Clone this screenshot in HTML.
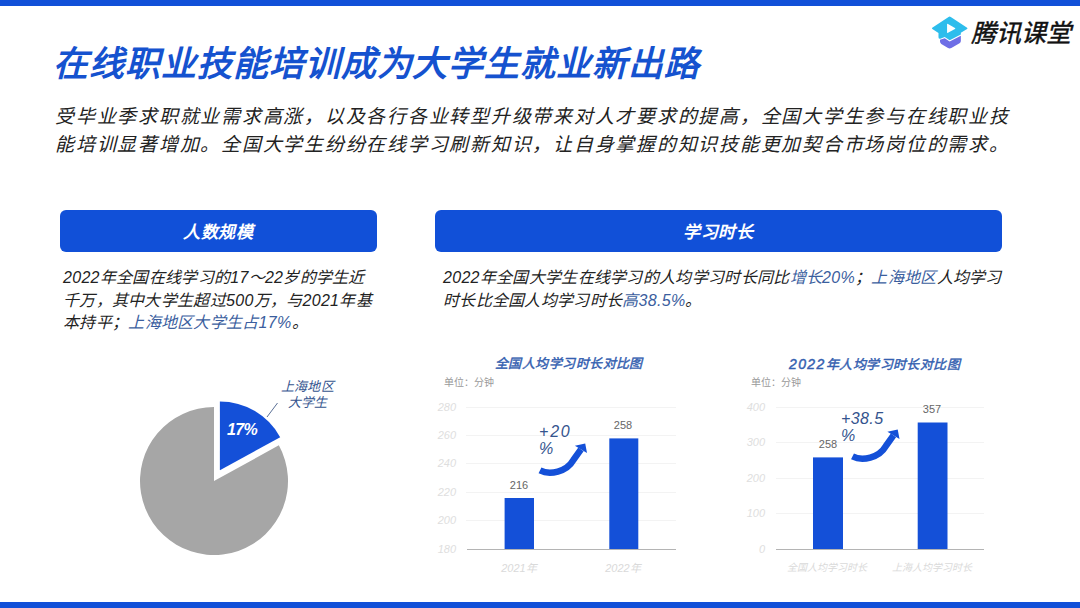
<!DOCTYPE html>
<html lang="zh-CN"><head><meta charset="utf-8">
<style>
*{margin:0;padding:0;box-sizing:border-box}
html,body{width:1080px;height:608px;overflow:hidden;background:#fff}
body{position:relative;font-family:"Liberation Sans",sans-serif;color:#222}
.abs{position:absolute;white-space:nowrap}
.bar-top{left:0;top:0;width:1080px;height:5.5px;background:#1150d8}
.bar-bot{left:0;top:602px;width:1080px;height:6px;background:#1150d8}
.title{left:53px;top:40px;font-size:35px;letter-spacing:0.95px;line-height:48px;font-weight:bold;font-style:italic;color:#1552cf}
.para{left:55px;top:103px;font-size:19px;letter-spacing:1.75px;line-height:27.7px;font-style:italic;color:#222}
.hdr{background:#1150d8;border-radius:6px;color:#fff;font-weight:600;font-size:17px;letter-spacing:0.6px;text-align:center;line-height:45px;height:42px;top:210px;font-style:italic}
.txt{font-size:16px;letter-spacing:0.3px;line-height:22.6px;font-style:italic;color:#222}
.blue{color:#3b5e9e}
.ctitle{font-size:13px;letter-spacing:0.45px;font-weight:normal;-webkit-text-stroke:0.45px #3460b0;font-style:italic;color:#3460b0;line-height:16px}
.unit{font-size:10px;color:#9a9a9a;line-height:12px}
.ylab{font-size:11px;color:#dedede;font-style:italic;line-height:12px;text-align:right;width:30px}
.vlab{font-size:11px;color:#666;line-height:12px;text-align:center;width:40px}
.xlab{font-size:11px;color:#dadada;font-style:italic;line-height:12px;text-align:center}
.pct{font-size:16px;letter-spacing:0.4px;font-style:italic;font-weight:normal;color:#34548e;line-height:17px}
</style></head><body>
<div class="abs bar-top"></div>
<div class="abs bar-bot"></div>

<!-- logo -->
<svg class="abs" style="left:925px;top:10px" width="50" height="40" viewBox="0 0 760 608">
  <path d="M228,452 L300,428 L375,478 L545,392 L545,470 Q545,492 525,505 L400,578 Q375,592 350,578 L248,515 Q228,502 228,480 Z" fill="#6e6ee6"/>
  <path d="M110,268 Q100,280 112,290 L205,350 L205,415 Q205,440 232,438 L300,410 L375,458 L545,372 L545,345 L640,290 Q652,280 640,270 L392,105 Q375,94 358,105 Z" fill="#2dbdec"/>
  <path d="M335,222 Q335,205 350,213 L455,272 Q468,280 455,288 L350,347 Q335,355 335,338 Z" fill="#ffffff"/>
</svg>
<div class="abs" style="left:971px;top:17px;font-size:25px;line-height:32px;font-style:italic;font-weight:normal;-webkit-text-stroke:0.45px #111;color:#111">腾讯课堂</div>

<div class="abs title">在线职业技能培训成为大学生就业新出路</div>
<div class="abs para">受毕业季求职就业需求高涨，以及各行各业转型升级带来对人才要求的提高，全国大学生参与在线职业技<br>能培训显著增加。全国大学生纷纷在线学习刷新知识，让自身掌握的知识技能更加契合市场岗位的需求。</div>

<div class="abs hdr" style="left:60px;width:317px">人数规模</div>
<div class="abs hdr" style="left:435px;width:567px">学习时长</div>

<div class="abs txt" style="left:63px;top:267px">2022年全国在线学习的17～22岁的学生近<br>千万，其中大学生超过500万，与2021年基<br>本持平；<span class="blue">上海地区大学生占17%</span>。</div>

<div class="abs txt" style="left:443px;top:267px">2022年全国大学生在线学习的人均学习时长同比<span class="blue">增长20%</span>；<span class="blue">上海地区</span>人均学习<br>时长比全国人均学习时长<span class="blue">高38.5%</span>。</div>


<svg class="abs" style="left:0;top:0" width="1080" height="608" viewBox="0 0 1080 608">
  <!-- pie -->
  <path d="M214,481 L278.85,445.35 A74,74 0 1 1 214,407 Z" fill="#a6a6a6"/>
  <path d="M219.9,470.3 L219.9,401.5 A68.8,68.8 0 0 1 280.19,437.15 Z" fill="#1450d8"/>
  <line x1="267" y1="417" x2="277.5" y2="403" stroke="#5a6f96" stroke-width="1"/>
  <!-- left chart grid -->
  <g stroke="#f3f3f3" stroke-width="1">
    <line x1="466" y1="407.5" x2="676" y2="407.5"/>
    <line x1="466" y1="435.5" x2="676" y2="435.5"/>
    <line x1="466" y1="463.5" x2="676" y2="463.5"/>
    <line x1="466" y1="492.5" x2="676" y2="492.5"/>
    <line x1="466" y1="520.5" x2="676" y2="520.5"/>
  </g>
  <line x1="467" y1="549.5" x2="676" y2="549.5" stroke="#b4b4b4" stroke-width="1"/>
  <rect x="504.6" y="498" width="29.4" height="51" fill="#1450d8"/>
  <rect x="609.3" y="438.4" width="29" height="110.6" fill="#1450d8"/>
  <!-- right chart grid -->
  <g stroke="#f3f3f3" stroke-width="1">
    <line x1="776" y1="407.5" x2="984" y2="407.5"/>
    <line x1="776" y1="442.5" x2="984" y2="442.5"/>
    <line x1="776" y1="478.5" x2="984" y2="478.5"/>
    <line x1="776" y1="513.5" x2="984" y2="513.5"/>
  </g>
  <line x1="776" y1="549.5" x2="984" y2="549.5" stroke="#b4b4b4" stroke-width="1"/>
  <rect x="813" y="457.4" width="30" height="91.6" fill="#1450d8"/>
  <rect x="917.7" y="422.5" width="29.8" height="126.5" fill="#1450d8"/>
  <!-- arrows -->
  <g id="arr" fill="#1450d8">
    <path d="M852.5,456.4 C862.3,461.3 879,458 886,445.8 L893.45,435.4" fill="none" stroke="#1450d8" stroke-width="6.5"/>
    <path d="M897.7,429.4 L887.4,431.7 L899.5,439.1 Z"/>
  </g>
  <g transform="translate(-312.5,14)" fill="#1450d8">
    <path d="M852.5,456.4 C862.3,461.3 879,458 886,445.8 L893.45,435.4" fill="none" stroke="#1450d8" stroke-width="6.5"/>
    <path d="M897.7,429.4 L887.4,431.7 L899.5,439.1 Z"/>
  </g>
</svg>

<div class="abs" style="left:227px;top:420px;font-size:16px;letter-spacing:-0.6px;line-height:20px;font-weight:bold;font-style:italic;color:#fff">17%</div>
<div class="abs" style="left:277px;top:379px;width:61px;text-align:center;font-size:13px;line-height:16px;letter-spacing:0.3px;color:#35558f;font-style:italic">上海地区<br>大学生</div>

<div class="abs ctitle" style="left:495px;top:355.5px">全国人均学习时长对比图</div>
<div class="abs unit" style="left:444px;top:377px">单位：分钟</div>
<div class="abs ylab" style="left:426px;top:401px">280</div>
<div class="abs ylab" style="left:426px;top:429px">260</div>
<div class="abs ylab" style="left:426px;top:457px">240</div>
<div class="abs ylab" style="left:426px;top:486px">220</div>
<div class="abs ylab" style="left:426px;top:514px">200</div>
<div class="abs ylab" style="left:426px;top:543px">180</div>
<div class="abs vlab" style="left:499px;top:479px">216</div>
<div class="abs vlab" style="left:603px;top:419px">258</div>
<div class="abs xlab" style="left:489px;top:562px;width:60px">2021年</div>
<div class="abs xlab" style="left:593px;top:562px;width:60px">2022年</div>
<div class="abs pct" style="left:539px;top:423px;letter-spacing:1.8px">+20<br>%</div>

<div class="abs ctitle" style="left:789px;top:355.5px"><span style="font-size:14px;letter-spacing:1.4px">2022</span>年人均学习时长对比图</div>
<div class="abs unit" style="left:751px;top:377px">单位：分钟</div>
<div class="abs ylab" style="left:735px;top:401px">400</div>
<div class="abs ylab" style="left:735px;top:436px">300</div>
<div class="abs ylab" style="left:735px;top:472px">200</div>
<div class="abs ylab" style="left:735px;top:507px">100</div>
<div class="abs ylab" style="left:735px;top:543px">0</div>
<div class="abs vlab" style="left:808px;top:438px">258</div>
<div class="abs vlab" style="left:912px;top:403px">357</div>
<div class="abs xlab" style="left:777px;top:562px;width:100px;font-size:10px">全国人均学习时长</div>
<div class="abs xlab" style="left:882px;top:562px;width:100px;font-size:10px">上海人均学习时长</div>
<div class="abs pct" style="left:841px;top:409.5px">+38.5<br>%</div>
</body></html>
